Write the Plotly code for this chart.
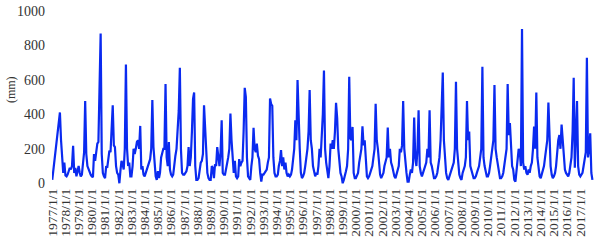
import plotly.graph_objects as go
import pandas as pd

# Monthly rainfall (mm), Jan..Dec for each year
y1977 = [20, 80, 140, 190, 230, 290, 350, 411, 250, 110, 60, 120]
y1978 = [45, 40, 50, 70, 90, 80, 100, 217, 60, 90, 40, 70]
y1979 = [100, 60, 40, 50, 110, 180, 478, 170, 100, 80, 60, 50]
y1980 = [40, 35, 170, 130, 180, 230, 240, 500, 870, 170, 60, 40]
y1981 = [30, 100, 90, 140, 190, 180, 300, 453, 220, 210, 100, 60]
y1982 = [50, 0, 70, 130, 110, 80, 200, 690, 200, 100, 120, 40]
y1983 = [40, 100, 200, 170, 200, 240, 250, 200, 333, 80, 100, 50]
y1984 = [40, 60, 80, 100, 110, 140, 200, 483, 210, 90, 40, 20]
y1985 = [70, 30, 60, 150, 180, 200, 200, 576, 150, 100, 240, 80]
y1986 = [50, 40, 50, 120, 160, 200, 300, 420, 670, 200, 60, 50]
y1987 = [50, 60, 70, 100, 210, 100, 150, 300, 490, 527, 100, 20]
y1988 = [20, 30, 80, 120, 130, 170, 453, 330, 150, 60, 30, 20]
y1989 = [20, 100, 90, 30, 110, 100, 210, 150, 100, 180, 366, 60]
y1990 = [50, 50, 80, 110, 150, 200, 405, 250, 150, 60, 130, 40]
y1991 = [30, 40, 140, 100, 120, 130, 300, 554, 500, 150, 40, 30]
y1992 = [20, 100, 150, 322, 200, 180, 230, 160, 140, 60, 10, 50]
y1993 = [50, 60, 70, 80, 120, 150, 492, 460, 450, 150, 60, 40]
y1994 = [40, 50, 100, 130, 192, 100, 150, 80, 120, 60, 40, 50]
y1995 = [40, 50, 80, 150, 200, 366, 250, 599, 300, 200, 60, 30]
y1996 = [40, 60, 100, 150, 200, 300, 541, 250, 200, 100, 60, 40]
y1997 = [60, 50, 100, 200, 150, 250, 400, 655, 200, 120, 80, 30]
y1998 = [100, 230, 200, 250, 200, 300, 467, 380, 200, 100, 60, 40]
y1999 = [0, 20, 40, 70, 100, 200, 618, 260, 250, 327, 60, 30]
y2000 = [30, 50, 60, 120, 150, 200, 331, 220, 250, 120, 40, 30]
y2001 = [40, 60, 80, 100, 150, 200, 461, 250, 200, 100, 50, 30]
y2002 = [50, 60, 100, 120, 150, 324, 150, 200, 120, 100, 60, 40]
y2003 = [30, 50, 80, 100, 200, 180, 220, 478, 200, 100, 60, 10]
y2004 = [10, 50, 80, 60, 120, 382, 150, 100, 200, 424, 100, 60]
y2005 = [40, 60, 80, 100, 120, 200, 150, 424, 120, 100, 60, 30]
y2006 = [30, 40, 60, 100, 150, 250, 400, 643, 250, 120, 60, 30]
y2007 = [20, 40, 60, 80, 100, 120, 200, 589, 200, 100, 50, 30]
y2008 = [20, 60, 80, 100, 150, 477, 250, 300, 100, 80, 50, 30]
y2009 = [30, 40, 60, 80, 100, 150, 200, 676, 150, 100, 60, 40]
y2010 = [40, 60, 100, 150, 200, 250, 570, 200, 150, 100, 60, 30]
y2011 = [30, 40, 60, 100, 150, 200, 576, 279, 350, 200, 100, 80]
y2012 = [20, 10, 80, 120, 200, 180, 100, 895, 120, 80, 100, 60]
y2013 = [50, 80, 60, 100, 120, 200, 330, 200, 527, 150, 80, 40]
y2014 = [30, 50, 70, 100, 150, 200, 250, 469, 200, 100, 50, 30]
y2015 = [40, 60, 100, 200, 250, 280, 200, 341, 250, 120, 80, 60]
y2016 = [50, 40, 60, 100, 150, 300, 612, 90, 300, 478, 100, 50]
y2017 = [40, 50, 60, 100, 130, 180, 728, 150, 200, 290, 60, 20]

years = list(range(1977, 2018))
yearly = [y1977, y1978, y1979, y1980, y1981, y1982, y1983, y1984, y1985, y1986,
          y1987, y1988, y1989, y1990, y1991, y1992, y1993, y1994, y1995, y1996,
          y1997, y1998, y1999, y2000, y2001, y2002, y2003, y2004, y2005, y2006,
          y2007, y2008, y2009, y2010, y2011, y2012, y2013, y2014, y2015, y2016,
          y2017]

rain = [v for yr in yearly for v in yr]
dates = pd.date_range("1977-01-01", periods=len(rain), freq="MS")

tick_vals = [pd.Timestamp(f"{y}-01-01") for y in years]
tick_text = [f"{y}/1/1" for y in years]
y_ticks = [0, 200, 400, 600, 800, 1000]

fig = go.Figure()
fig.add_trace(go.Scatter(
    x=dates, y=rain, mode="lines",
    line=dict(color="#0a2af0", width=2.2),
    showlegend=False,
))

fig.update_layout(
    width=596, height=245,
    margin=dict(l=52, r=0, t=11, b=60),
    paper_bgcolor="white", plot_bgcolor="white",
    font=dict(family="Liberation Serif, Times New Roman, serif", color="#333"),
    xaxis=dict(
        range=["1976-12-25", "2018-03-10"],
        tickmode="array", tickvals=tick_vals, ticktext=tick_text,
        tickangle=-90, tickfont=dict(size=13.5, color="#333"),
        showgrid=False, zeroline=False, showline=False, ticks="",
    ),
    yaxis=dict(
        range=[-10, 1000],
        tickmode="array", tickvals=y_ticks,
        tickfont=dict(size=14, color="#333"),
        showgrid=False, zeroline=False, showline=False, ticks="",
        ticklabelstandoff=6,
    ),
    annotations=[dict(
        text="(mm)", xref="paper", yref="paper",
        x=-0.074, y=0.55, xanchor="center", yanchor="middle",
        textangle=-90, showarrow=False,
        font=dict(size=12, color="#333"),
    )],
)

fig.write_html("out.html")
